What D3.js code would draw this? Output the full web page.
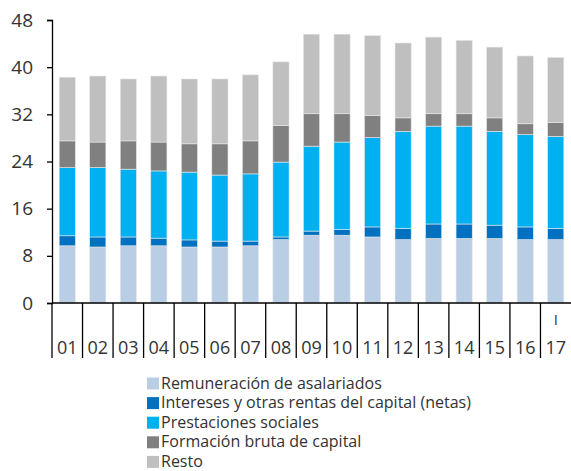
<!DOCTYPE html>
<html>
<head>
<meta charset="utf-8">
<script src="https://cdn.jsdelivr.net/npm/d3@7"></script>
<style>
  body { margin: 0; background: #fff; }
  text { font-family: "Open Sans", sans-serif; fill: #333; }
</style>
</head>
<body>
<svg id="chart" width="571" height="471"></svg>
<script>
// years (2001-2017), last one only the first quarter
const years = ["01","02","03","04","05","06","07","08","09","10","11","12","13","14","15","16","17"];
const remuneracion = [9.7,9.5,9.7,9.7,9.5,9.5,9.7,10.75,11.5,11.5,11.2,10.75,10.95,10.95,10.95,10.75,10.75];
const intereses    = [1.7,1.7,1.5,1.3,1.2,1.0,0.8,0.45,0.7,0.95,1.7,1.9,2.45,2.45,2.25,2.15,1.9];
const prestaciones = [11.55,11.8,11.5,11.4,11.5,11.2,11.4,12.7,14.4,14.85,15.15,16.45,16.6,16.6,15.9,15.65,15.6];
const formacion    = [4.55,4.3,4.8,4.9,4.8,5.3,5.6,6.2,5.5,4.8,3.75,2.3,2.1,2.1,2.3,1.85,2.35];
const resto        = [10.8,11.2,10.5,11.2,11.0,11.0,11.2,10.8,13.5,13.5,13.55,12.7,13.0,12.45,12.0,11.5,11.05];
const yTicks = [0,8,16,24,32,40,48];

const seriesNames = ["Remuneración de asalariados","Intereses y otras rentas del capital (netas)","Prestaciones sociales","Formación bruta de capital","Resto"];
const colors = ["#b9cde5","#0070c0","#00b0f0","#808080","#bfbfbf"];
const keys = ["rem","int","pre","for","res"];

const table = years.map((y, i) => ({
  year: y, rem: remuneracion[i], int: intereses[i], pre: prestaciones[i], for: formacion[i], res: resto[i]
}));

const svg = d3.select("#chart");
const mLeft = 52, mRight = 571, mTop = 20, mBottom = 303;

const x = d3.scaleBand().domain(years).range([mLeft, mRight]).paddingInner(0.47).paddingOuter(0.235);
const xb = d3.scaleBand().domain(years).range([mLeft, mRight]);
const y = d3.scaleLinear().domain([0, 48]).range([mBottom, mTop]);

const stack = d3.stack().keys(keys)(table);

svg.append("g").selectAll("g")
  .data(stack)
  .enter().append("g")
  .attr("fill", (d, i) => colors[i])
  .selectAll("rect")
  .data(d => d)
  .enter().append("rect")
  .attr("x", d => x(d.data.year))
  .attr("width", x.bandwidth())
  .attr("y", d => y(d[1]))
  .attr("height", d => y(d[0]) - y(d[1]))
  .attr("stroke", "#e8e8e8")
  .attr("stroke-width", 0.6);

// y axis
const yAxis = svg.append("g").attr("transform", `translate(${mLeft},0)`)
  .call(d3.axisLeft(y).tickValues(yTicks).tickSize(5).tickPadding(14));
yAxis.select(".domain").attr("stroke", "#000").attr("stroke-width", 1.3);
yAxis.selectAll(".tick line").attr("stroke", "#000").attr("stroke-width", 1.3);
yAxis.selectAll("text").style("font-size", "19px").attr("fill", "#333");

// x axis line and separators
svg.append("line").attr("x1", mLeft).attr("x2", mRight).attr("y1", mBottom).attr("y2", mBottom)
  .attr("stroke", "#000").attr("stroke-width", 1.3);
svg.append("g").selectAll("line")
  .data(years)
  .enter().append("line")
  .attr("x1", d => xb(d)).attr("x2", d => xb(d))
  .attr("y1", mBottom).attr("y2", 358)
  .attr("stroke", "#000").attr("stroke-width", 1.3);

svg.append("g").selectAll("text")
  .data(years)
  .enter().append("text")
  .attr("x", d => xb(d) + xb.bandwidth() / 2)
  .attr("y", 354)
  .attr("text-anchor", "middle")
  .style("font-size", "18px")
  .text(d => d);

svg.append("text")
  .attr("x", xb("17") + xb.bandwidth() / 2)
  .attr("y", 325)
  .attr("text-anchor", "middle")
  .style("font-size", "15px")
  .text("I");

// legend
const legend = svg.append("g").selectAll("g")
  .data(seriesNames)
  .enter().append("g")
  .attr("transform", (d, i) => `translate(147,${376.5 + i * 19.6})`);
legend.append("rect").attr("width", 12).attr("height", 12).attr("y", 1)
  .attr("fill", (d, i) => colors[i]);
legend.append("text").attr("x", 14).attr("y", 12)
  .style("font-size", "16px")
  .text(d => d);
</script>
</body>
</html>
